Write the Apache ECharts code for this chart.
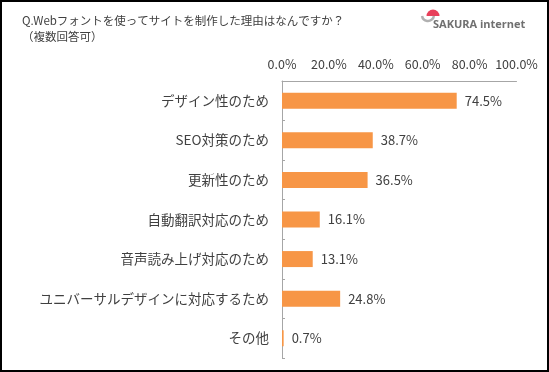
<!DOCTYPE html>
<html><head><meta charset="utf-8">
<script src="https://cdn.jsdelivr.net/npm/echarts@6/dist/echarts.min.js"></script>
<style>html,body{margin:0;padding:0;background:#fff}#c{width:549px;height:372px}</style>
</head><body><div id="c"></div>
<script>
const categories = ["デザイン性のため","SEO対策のため","更新性のため","自動翻訳対応のため","音声読み上げ対応のため","ユニバーサルデザインに対応するため","その他"];
const values = [74.5, 38.7, 36.5, 16.1, 13.1, 24.8, 0.7];
const titleLines = ["Q.Webフォントを使ってサイトを制作した理由はなんですか？","（複数回答可）"];
const logoText = "SAKURA internet";
const FF = '"Noto Sans CJK JP","Noto Sans",sans-serif';
const chart = echarts.init(document.getElementById('c'));
chart.setOption({
  animation:false,
  backgroundColor:'#fff',
  grid:{left:282,right:32.5,top:81,bottom:14,containLabel:false},
  xAxis:{type:'value',position:'top',min:0,max:100,interval:20,
    axisLine:{show:true,lineStyle:{color:'#a6a6a6',width:1}},
    axisTick:{show:false},splitLine:{show:false},
    axisLabel:{color:'#404040',fontSize:12.5,fontFamily:FF,margin:10,formatter:v=>v.toFixed(1)+'%'}},
  yAxis:{type:'category',inverse:true,data:categories,
    axisLine:{show:true,lineStyle:{color:'#a6a6a6',width:1}},
    axisTick:{show:true,inside:true,length:3,lineStyle:{color:'#a6a6a6'}},
    axisLabel:{color:'#404040',fontSize:13.5,fontFamily:FF,margin:13}},
  series:[{type:'bar',data:values,barWidth:16,
    itemStyle:{color:'#F79646'},
    label:{show:true,position:'right',distance:8,color:'#404040',fontSize:13,fontFamily:FF,formatter:p=>p.value.toFixed(1)+'%'}}],
  graphic:[
    {type:'rect',shape:{x:1,y:1,width:547,height:370},style:{fill:'none',stroke:'#000',lineWidth:2},silent:true},
    {type:'text',left:22,top:15,style:{text:titleLines[0],fill:'#404040',font:'11.5px '+FF}},
    {type:'text',left:22,top:31,style:{text:titleLines[1],fill:'#404040',font:'11.5px '+FF}},
    {type:'sector',shape:{cx:433,cy:16,r0:0,r:6.5,startAngle:Math.PI,endAngle:Math.PI*2},style:{fill:'#e8405a'}},
    {type:'arc',shape:{cx:428,cy:15,r:6,startAngle:Math.PI*0.05,endAngle:Math.PI*0.95},style:{stroke:'#b0b0b0',lineWidth:2.5,fill:'none'}},
    {type:'text',x:433,y:25,style:{text:logoText,fill:'#707070',font:'bold 11px "Open Sans",sans-serif',verticalAlign:'middle'}}
  ]
});
</script></body></html>
